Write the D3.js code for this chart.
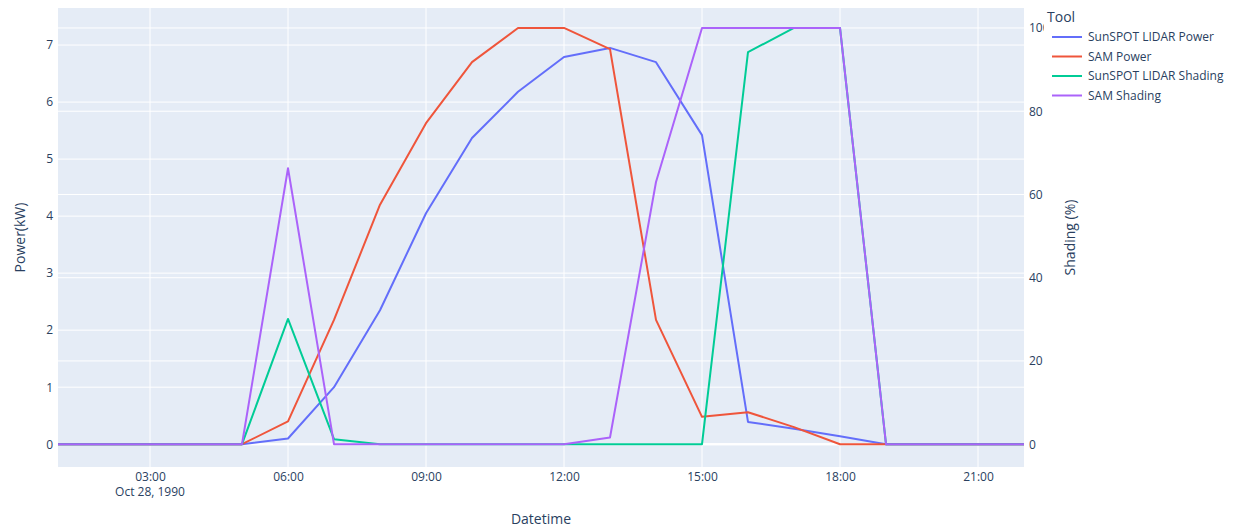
<!DOCTYPE html>
<html>
<head>
<meta charset="utf-8">
<script src="https://cdn.jsdelivr.net/npm/d3@7"></script>
<style>
	body { margin: 0; background: #fff; }
	text { font-family: "Open Sans", verdana, arial, sans-serif; fill: #2a3f5f; }
</style>
</head>
<body>
<svg class="line-chart"></svg>
<script>
// hourly timestamps, Oct 28 1990 01:00 .. 22:00
let hours = [1, 2, 3, 4, 5, 6, 7, 8, 9, 10, 11, 12, 13, 14, 15, 16, 17, 18, 19, 20, 21, 22];

// power (kW), left axis
let sunspotPower = [0, 0, 0, 0, 0, 0.1, 1.0, 2.35, 4.05, 5.37, 6.18, 6.79, 6.95, 6.7, 5.42, 0.39, 0.27, 0.14, 0, 0, 0, 0];
let samPower = [0, 0, 0, 0, 0, 0.4, 2.18, 4.2, 5.63, 6.7, 7.3, 7.3, 6.93, 2.18, 0.48, 0.56, 0.3, 0, 0, 0, 0, 0];

// shading (%), right axis
let sunspotShading = [0, 0, 0, 0, 0, 30.1, 1.2, 0, 0, 0, 0, 0, 0, 0, 0, 94.2, 100, 100, 0, 0, 0, 0];
let samShading = [0, 0, 0, 0, 0, 66.3, 0, 0, 0, 0, 0, 0, 1.6, 63, 100, 100, 100, 100, 0, 0, 0, 0];

let seriesNames = ["SunSPOT LIDAR Power", "SAM Power", "SunSPOT LIDAR Shading", "SAM Shading"];
let powerTicks = [0, 1, 2, 3, 4, 5, 6, 7];
let shadingTicks = [0, 20, 40, 60, 80, 100];

let width = 1251, height = 530;
let margin = { left: 58, right: 227, top: 8, bottom: 63 };
let plotW = width - margin.left - margin.right;
let plotH = height - margin.top - margin.bottom;

let colors = ["#636efa", "#EF553B", "#00cc96", "#ab63fa"];

let svg = d3.select(".line-chart")
	.attr("width", width)
	.attr("height", height);

let times = hours.map(function(h) { return new Date(1990, 9, 28, h, 0, 0); });

// scales
let xScale = d3.scaleTime()
	.domain([times[0], times[times.length - 1]])
	.range([margin.left, margin.left + plotW]);

let yLeft = d3.scaleLinear()
	.domain([-0.4, 7.65])
	.range([margin.top + plotH, margin.top]);

// zero of the shading axis sits on the zero of the power axis
let yRight = d3.scaleLinear()
	.domain([-5.48, 104.8])
	.range([margin.top + plotH, margin.top]);

// plot background
svg.append("rect")
	.attr("x", margin.left)
	.attr("y", margin.top)
	.attr("width", plotW)
	.attr("height", plotH)
	.attr("fill", "#E5ECF6");

let xTickVals = [3, 6, 9, 12, 15, 18, 21].map(function(h) { return new Date(1990, 9, 28, h, 0, 0); });

// grid lines
let grid = svg.append("g").attr("class", "grid");

grid.selectAll(".gx")
	.data(xTickVals)
	.enter().append("line")
	.attr("x1", function(d) { return xScale(d); })
	.attr("x2", function(d) { return xScale(d); })
	.attr("y1", margin.top)
	.attr("y2", margin.top + plotH)
	.attr("stroke", "#fff")
	.attr("stroke-width", 1);

grid.selectAll(".gl")
	.data(powerTicks)
	.enter().append("line")
	.attr("x1", margin.left)
	.attr("x2", margin.left + plotW)
	.attr("y1", function(d) { return yLeft(d); })
	.attr("y2", function(d) { return yLeft(d); })
	.attr("stroke", "#fff")
	.attr("stroke-width", function(d) { return d === 0 ? 2 : 1; });

grid.selectAll(".gr")
	.data(shadingTicks)
	.enter().append("line")
	.attr("x1", margin.left)
	.attr("x2", margin.left + plotW)
	.attr("y1", function(d) { return yRight(d); })
	.attr("y2", function(d) { return yRight(d); })
	.attr("stroke", "#fff")
	.attr("stroke-width", function(d) { return d === 0 ? 2 : 1; });

// left axis
let leftAxis = d3.axisLeft(yLeft)
	.tickValues(powerTicks)
	.tickSize(0)
	.tickPadding(4)
	.tickFormat(d3.format("d"));

svg.append("g")
	.attr("transform", "translate(" + (margin.left - 1) + ",0)")
	.call(leftAxis)
	.call(function(g) { g.select(".domain").remove(); })
	.selectAll("text")
	.style("font-size", "12px")
	.attr("fill", "#2a3f5f");

// right axis
let rightAxis = d3.axisRight(yRight)
	.tickValues(shadingTicks)
	.tickSize(0)
	.tickPadding(5)
	.tickFormat(d3.format("d"));

svg.append("g")
	.attr("transform", "translate(" + (margin.left + plotW) + ",0)")
	.call(rightAxis)
	.call(function(g) { g.select(".domain").remove(); })
	.selectAll("text")
	.style("font-size", "12px")
	.attr("fill", "#2a3f5f");

// x axis
let fmtHour = d3.timeFormat("%H:%M");
let xAxis = d3.axisBottom(xScale)
	.tickValues(xTickVals)
	.tickSize(0)
	.tickPadding(5)
	.tickFormat(fmtHour);

let xg = svg.append("g")
	.attr("transform", "translate(0," + (margin.top + plotH) + ")")
	.call(xAxis);
xg.select(".domain").remove();
xg.selectAll("text").style("font-size", "12px").attr("fill", "#2a3f5f");

// date under first tick
xg.append("text")
	.attr("x", xScale(xTickVals[0]))
	.attr("y", 20)
	.attr("dy", "0.71em")
	.attr("text-anchor", "middle")
	.style("font-size", "12px")
	.text("Oct 28, 1990");

// axis titles
svg.append("text")
	.attr("x", margin.left + plotW / 2)
	.attr("y", 524)
	.attr("text-anchor", "middle")
	.style("font-size", "14px")
	.text("Datetime");

svg.append("text")
	.attr("transform", "translate(25," + (margin.top + plotH / 2) + ") rotate(-90)")
	.attr("text-anchor", "middle")
	.style("font-size", "14px")
	.text("Power(kW)");

svg.append("text")
	.attr("transform", "translate(1075," + (margin.top + plotH / 2) + ") rotate(-90)")
	.attr("text-anchor", "middle")
	.style("font-size", "14px")
	.text("Shading (%)");

// clip for lines
svg.append("clipPath")
	.attr("id", "plot-clip")
	.append("rect")
	.attr("x", margin.left)
	.attr("y", margin.top)
	.attr("width", plotW)
	.attr("height", plotH);

let leftLine = d3.line()
	.x(function(d, i) { return xScale(times[i]); })
	.y(function(d) { return yLeft(d); });

let rightLine = d3.line()
	.x(function(d, i) { return xScale(times[i]); })
	.y(function(d) { return yRight(d); });

let lines = svg.append("g").attr("clip-path", "url(#plot-clip)");

let seriesData = [
	{ values: sunspotPower, line: leftLine },
	{ values: samPower, line: leftLine },
	{ values: sunspotShading, line: rightLine },
	{ values: samShading, line: rightLine }
];

seriesData.forEach(function(s, i) {
	lines.append("path")
		.datum(s.values)
		.attr("fill", "none")
		.attr("stroke", colors[i])
		.attr("stroke-width", 2)
		.attr("stroke-linejoin", "round")
		.attr("d", s.line);
});

// legend (white bg covers the right tick label, as in plotly)
let legend = svg.append("g").attr("class", "legend");

legend.append("rect")
	.attr("x", 1044)
	.attr("y", 4)
	.attr("width", 190)
	.attr("height", 104)
	.attr("fill", "#fff");

legend.append("text")
	.attr("x", 1047)
	.attr("y", 22)
	.style("font-size", "14px")
	.text("Tool");

seriesNames.forEach(function(name, i) {
	let cy = 37 + i * 19.5;
	legend.append("line")
		.attr("x1", 1052)
		.attr("x2", 1082)
		.attr("y1", cy)
		.attr("y2", cy)
		.attr("stroke", colors[i])
		.attr("stroke-width", 2);
	legend.append("text")
		.attr("x", 1088)
		.attr("y", cy)
		.attr("dy", "0.35em")
		.style("font-size", "12px")
		.text(name);
});
</script>
</body>
</html>
